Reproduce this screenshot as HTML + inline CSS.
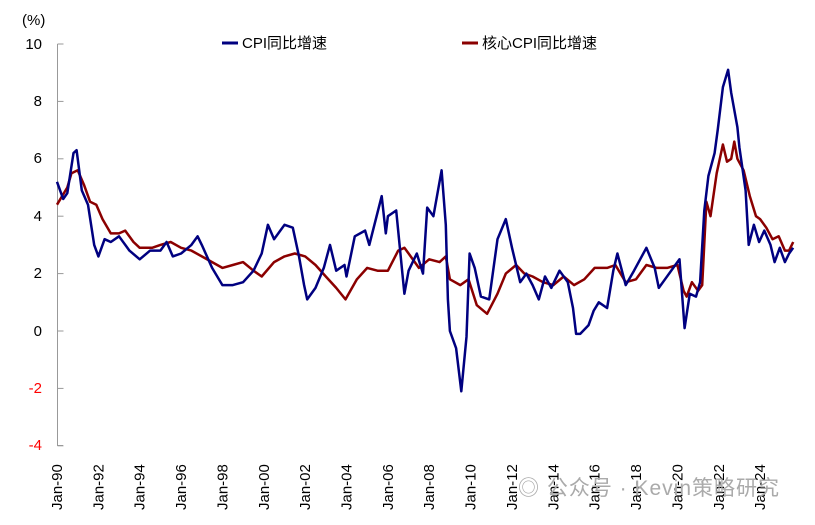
<!DOCTYPE html>
<html><head><meta charset="utf-8"><style>
body{margin:0;background:#fff;}
svg text{font-family:"Liberation Sans","Noto Sans CJK SC",sans-serif;}
</style></head><body>
<svg id="s" width="815" height="520" xmlns="http://www.w3.org/2000/svg">
<rect width="815" height="520" fill="#fff"/>
<text x="22" y="25" font-size="15">(%)</text>
<g font-size="15" text-anchor="end">
<text x="42" y="49">10</text><text x="42" y="106">8</text><text x="42" y="163">6</text>
<text x="42" y="221">4</text><text x="42" y="278">2</text><text x="42" y="336">0</text>
<text x="42" y="393" fill="#f00">-2</text><text x="42" y="450" fill="#f00">-4</text>
</g>
<g id="ax" stroke="#999" stroke-width="1" fill="none"></g>
<g id="xl" font-size="15"></g>
<text x="518" y="495" font-size="21" fill="#aaa" letter-spacing="1">◎ 公众号 · Kevin策略研究</text>
<line x1="222" y1="43" x2="238" y2="43" stroke="#000080" stroke-width="3"/>
<text x="242" y="48" font-size="15">CPI同比增速</text>
<line x1="462" y1="43" x2="478" y2="43" stroke="#8b0000" stroke-width="3"/>
<text x="482" y="48" font-size="15">核心CPI同比增速</text>
<path id="core" fill="none" stroke="#8b0000" stroke-width="2.5" stroke-linejoin="round"/>
<path id="cpi" fill="none" stroke="#000080" stroke-width="2.5" stroke-linejoin="round"/>
</svg>
<script>
var X=function(t){return 57+(t-1990)*20.68;},Y=function(v){return 331-v*28.7;};
var ax='<path d="M57.5,44 V445.5 H63"/>';
for(var v=10;v>=-4;v-=2){ax+='<path d="M57.5,'+Y(v).toFixed(1)+' h6"/>';}
document.getElementById('ax').innerHTML=ax;
var xl='';for(var y=1990;y<=2024;y+=2){var x=X(y)+5;xl+='<text transform="translate('+x.toFixed(1)+',510) rotate(-90)">Jan-'+String(y%100).padStart(2,'0')+'</text>';}
document.getElementById('xl').innerHTML=xl;
var cpi=[1990.0,5.2,1990.3,4.6,1990.5,4.8,1990.8,6.2,1990.95,6.3,1991.2,4.9,1991.5,4.4,1991.8,3.0,1992.0,2.6,1992.3,3.2,1992.6,3.1,1993.0,3.3,1993.5,2.8,1994.0,2.5,1994.5,2.8,1995.0,2.8,1995.3,3.1,1995.6,2.6,1996.0,2.7,1996.5,3.0,1996.8,3.3,1997.0,3.0,1997.5,2.2,1998.0,1.6,1998.5,1.6,1999.0,1.7,1999.5,2.1,1999.9,2.7,2000.2,3.7,2000.5,3.2,2000.8,3.5,2001.0,3.7,2001.4,3.6,2001.7,2.6,2001.95,1.6,2002.1,1.1,2002.5,1.5,2002.9,2.2,2003.2,3.0,2003.5,2.1,2003.9,2.3,2004.0,1.9,2004.4,3.3,2004.9,3.5,2005.1,3.0,2005.7,4.7,2005.9,3.4,2006.0,4.0,2006.4,4.2,2006.7,2.0,2006.8,1.3,2007.0,2.1,2007.4,2.7,2007.7,2.0,2007.9,4.3,2008.2,4.0,2008.6,5.6,2008.8,3.7,2008.9,1.1,2009.0,0.0,2009.3,-0.6,2009.55,-2.1,2009.8,-0.2,2009.95,2.7,2010.2,2.2,2010.5,1.2,2010.9,1.1,2011.3,3.2,2011.7,3.9,2012.0,2.9,2012.4,1.7,2012.7,2.0,2013.0,1.6,2013.3,1.1,2013.6,1.9,2013.9,1.5,2014.3,2.1,2014.7,1.7,2014.95,0.8,2015.1,-0.1,2015.3,-0.1,2015.7,0.2,2015.95,0.7,2016.2,1.0,2016.6,0.8,2016.9,2.1,2017.1,2.7,2017.5,1.6,2017.9,2.1,2018.5,2.9,2018.9,2.2,2019.1,1.5,2019.4,1.8,2019.9,2.3,2020.1,2.5,2020.35,0.1,2020.6,1.3,2020.9,1.2,2021.1,1.7,2021.3,4.2,2021.5,5.4,2021.8,6.2,2021.95,7.0,2022.2,8.5,2022.45,9.1,2022.6,8.3,2022.9,7.1,2023.0,6.4,2023.3,4.9,2023.45,3.0,2023.7,3.7,2023.95,3.1,2024.2,3.5,2024.5,3.0,2024.7,2.4,2024.95,2.9,2025.2,2.4,2025.4,2.7,2025.6,2.9];
var core=[1990.0,4.4,1990.5,5.0,1990.7,5.5,1991.0,5.6,1991.3,5.1,1991.6,4.5,1991.9,4.4,1992.2,3.9,1992.6,3.4,1993.0,3.4,1993.3,3.5,1993.7,3.1,1994.0,2.9,1994.6,2.9,1995.0,3.0,1995.5,3.1,1996.0,2.9,1996.5,2.8,1997.0,2.6,1997.5,2.4,1998.0,2.2,1998.5,2.3,1999.0,2.4,1999.5,2.1,1999.9,1.9,2000.5,2.4,2001.0,2.6,2001.5,2.7,2002.0,2.6,2002.5,2.3,2003.0,1.9,2003.5,1.5,2003.95,1.1,2004.5,1.8,2005.0,2.2,2005.5,2.1,2006.0,2.1,2006.5,2.8,2006.8,2.9,2007.0,2.7,2007.5,2.2,2008.0,2.5,2008.5,2.4,2008.8,2.6,2009.0,1.8,2009.5,1.6,2009.9,1.8,2010.3,0.9,2010.8,0.6,2011.3,1.3,2011.7,2.0,2012.2,2.3,2012.6,2.0,2013.0,1.9,2013.5,1.7,2014.0,1.6,2014.5,1.9,2015.0,1.6,2015.5,1.8,2016.0,2.2,2016.6,2.2,2017.0,2.3,2017.5,1.7,2018.0,1.8,2018.5,2.3,2019.0,2.2,2019.5,2.2,2020.0,2.3,2020.3,1.4,2020.45,1.2,2020.7,1.7,2021.0,1.4,2021.2,1.6,2021.4,4.5,2021.6,4.0,2021.9,5.5,2022.2,6.5,2022.4,5.9,2022.6,6.0,2022.75,6.6,2022.9,6.0,2023.2,5.6,2023.5,4.7,2023.8,4.0,2024.0,3.9,2024.3,3.6,2024.6,3.2,2024.9,3.3,2025.2,2.8,2025.4,2.8,2025.6,3.1];
function p(a){var d='';for(var i=0;i<a.length;i+=2){d+=(i?'L':'M')+X(a[i]).toFixed(1)+','+Y(a[i+1]).toFixed(1);}return d;}
document.getElementById('cpi').setAttribute('d',p(cpi));
document.getElementById('core').setAttribute('d',p(core));
</script>
</body></html>
